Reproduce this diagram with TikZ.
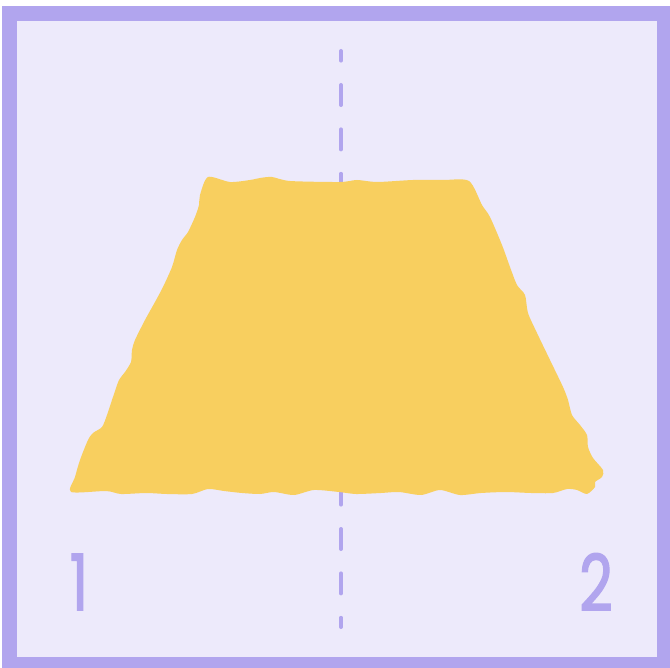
\documentclass[tikz,border=0pt]{standalone}
\usepackage{fontspec}
\setmainfont{Poppins}
\newfontfamily\digitfont{Poppins}[BoldFont=Poppins, BoldFeatures={FakeBold=2}]
\definecolor{Frame}{HTML}{B1A5EE}
\definecolor{Paper}{HTML}{EDEAFB}
\definecolor{Sand}{HTML}{F8CF5F}
\tikzset{
    frameline/.style={draw=Frame, line width=15pt},
    axisline/.style={draw=Frame, line width=4pt, line cap=round, dash pattern=on 20pt off 24.4pt, dash phase=10.4pt},
    sandshape/.style={fill=Sand, draw=none},
    sidelabel/.style={text=Frame, font=\digitfont\bfseries\fontsize{78}{78}\selectfont, inner sep=0pt, xscale=0.75},
}
\begin{document}
\begin{tikzpicture}[x=1pt, y=-1pt]
    \useasboundingbox (0,0) rectangle (670,668);
    \clip (0,0) rectangle (670,668);

    % Cornice
    \fill[Paper] (2,6) rectangle (680,680);
    \draw[frameline] (9.5,13.5) rectangle (664.5,664.5);

    % Asse tratteggiato
    \coordinate (axistop) at (341,51);
    \coordinate (axisbot) at (341,627);
    \draw[axisline] (axistop) -- (axisbot);

    % Trapezio
    \path[sandshape] plot[smooth cycle, tension=0.45] coordinates {
        (208,177) (230,182) (250,180) (260,178) (272,177) (290,181) (340,182)
        (357,180) (377,182) (413,180) (443,180) (469,181)
        (482,205) (490,217) (502,245) (510,267) (517,285) (525,295) (528,313)
        (537,333) (550,360) (563,387) (568,400) (572,415) (580,425) (587,435)
        (588,447) (593,458) (603,470) (602,477) (595,482) (595,487) (587,494)
        (577,490) (567,489) (553,493) (531,493) (506,492) (481,493) (460,495)
        (440,490) (421,495) (399,492) (381,493) (356,494) (339,492) (314,490)
        (294,495) (274,492) (260,494) (242,493) (224,491) (208,489) (192,494)
        (167,494) (146,493) (121,494) (106,491) (71,492)
        (75,477) (80,460) (88,440) (93,433) (102,427) (107,415) (113,397)
        (119,380) (125,372) (131,362) (132,350) (135,340) (145,320) (155,302)
        (163,287) (172,267) (177,250) (182,240) (188,232) (195,217) (199,205)
        (200,195)
    };

    % Etichette
    \node[sidelabel] (one) at (79,582) {1};
    \node[sidelabel] (two) at (596,582) {2};
\end{tikzpicture}
\end{document}
